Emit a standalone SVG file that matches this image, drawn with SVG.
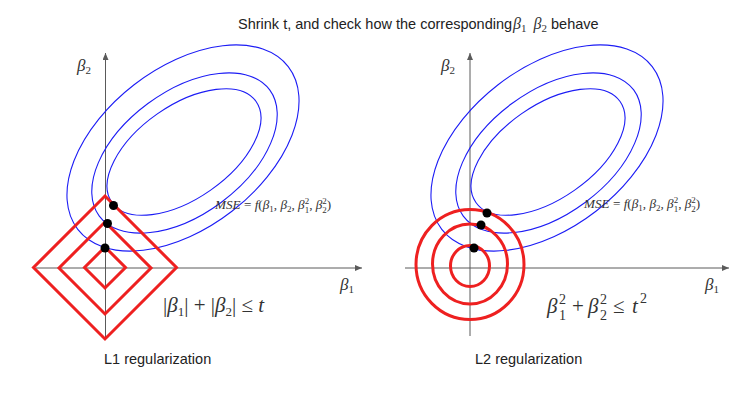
<svg xmlns="http://www.w3.org/2000/svg" xmlns:xlink="http://www.w3.org/1999/xlink" width="744" height="415" viewBox="0 0 744 415">
<style>
.axis{stroke:#5a5a5a;stroke-width:1;fill:none}
.mse{stroke:#1c1cf5;stroke-width:1.1;fill:none}
.con{stroke:#ee2020;stroke-width:3;fill:none}
.dot{fill:#000}
.sans{font-family:"Liberation Sans",Arial,sans-serif;fill:#222}
.ser{font-family:"Liberation Serif","Times New Roman",serif;fill:#333}
.it{font-style:italic}
.n{font-style:normal}
.s{font-style:normal;font-size:9px}
</style>
<defs>
<marker id="arr" markerUnits="userSpaceOnUse" markerWidth="8" markerHeight="6" refX="7" refY="3" orient="auto">
<path d="M0,0 L7,3 L0,6 z" fill="#5a5a5a"/>
</marker>
<g id="ellipses">
<ellipse class="mse" cx="183" cy="148" rx="133" ry="80" transform="rotate(-37.7 183 148)"/>
<ellipse class="mse" cx="184.5" cy="153" rx="106" ry="61.5" transform="rotate(-36.5 184.5 153)"/>
<ellipse class="mse" cx="184" cy="152" rx="88" ry="46.5" transform="rotate(-35 184 152)"/>
</g>
</defs>

<rect width="744" height="415" fill="#fff"/>

<g id="title">
<text class="sans" x="238" y="29" font-size="14.5">Shrink t, and check how the corresponding<tspan class="ser it" font-size="16" dx="1">β</tspan><tspan class="ser" font-size="11" dy="3">1</tspan><tspan class="ser it" font-size="16" dx="7" dy="-3">β</tspan><tspan class="ser" font-size="11" dy="3">2</tspan><tspan dy="-3"> behave</tspan></text>
</g>

<g id="panel-l1">
<g id="l1-axes">
<line class="axis" x1="105.5" y1="340" x2="105.5" y2="53" marker-end="url(#arr)"/>
<line class="axis" x1="36" y1="268" x2="362" y2="268" marker-end="url(#arr)"/>
<text class="ser it" x="77" y="71" font-size="17">β<tspan class="n" font-size="11" dy="3">2</tspan></text>
<text class="ser it" x="340" y="290" font-size="17">β<tspan class="n" font-size="11" dy="3">1</tspan></text>
</g>
<g id="l1-mse">
<use xlink:href="#ellipses"/>
<text class="ser it" x="215" y="209" font-size="13.2">MSE<tspan class="n"> = </tspan>f<tspan class="n">(</tspan>β<tspan class="s" dy="2.5">1</tspan><tspan class="n" dy="-2.5">, </tspan>β<tspan class="s" dy="2.5">2</tspan><tspan class="n" dy="-2.5">, </tspan>β<tspan class="s" dy="-5">2</tspan><tspan class="s" dx="-4.5" dy="8.5">1</tspan><tspan class="n" dy="-3.5">, </tspan>β<tspan class="s" dy="-5">2</tspan><tspan class="s" dx="-4.5" dy="8.5">2</tspan><tspan class="n" dy="-3.5">)</tspan></text>
</g>
<g id="l1-constraint">
<path class="con" d="M105,196 L176.5,267.5 L105,339 L33.5,267.5 Z"/>
<path class="con" d="M105,222 L151,268 L105,314 L59,268 Z"/>
<path class="con" d="M105,247 L125.5,267.5 L105,288 L84.5,267.5 Z"/>
</g>
<g id="l1-dots">
<circle class="dot" cx="113.5" cy="205.5" r="4.5"/>
<circle class="dot" cx="107.5" cy="223.5" r="4.5"/>
<circle class="dot" cx="105" cy="248" r="4.5"/>
</g>
<text class="ser" x="163" y="312" font-size="21">|<tspan class="it">β</tspan><tspan font-size="13" dy="4">1</tspan><tspan dy="-4">| + |</tspan><tspan class="it">β</tspan><tspan font-size="13" dy="4">2</tspan><tspan dy="-4">| ≤ </tspan><tspan class="it">t</tspan></text>
<text class="sans" x="104" y="364" font-size="14.5">L1 regularization</text>
</g>

<g id="panel-l2">
<g id="l2-axes">
<line class="axis" x1="470" y1="336" x2="470" y2="53" marker-end="url(#arr)"/>
<line class="axis" x1="405" y1="268" x2="729" y2="268" marker-end="url(#arr)"/>
<text class="ser it" x="441" y="71" font-size="17">β<tspan class="n" font-size="11" dy="3">2</tspan></text>
<text class="ser it" x="705" y="290" font-size="17">β<tspan class="n" font-size="11" dy="3">1</tspan></text>
</g>
<g id="l2-mse">
<use xlink:href="#ellipses" x="364"/>
<text class="ser it" x="584" y="208" font-size="13.2">MSE<tspan class="n"> = </tspan>f<tspan class="n">(</tspan>β<tspan class="s" dy="2.5">1</tspan><tspan class="n" dy="-2.5">, </tspan>β<tspan class="s" dy="2.5">2</tspan><tspan class="n" dy="-2.5">, </tspan>β<tspan class="s" dy="-5">2</tspan><tspan class="s" dx="-4.5" dy="8.5">1</tspan><tspan class="n" dy="-3.5">, </tspan>β<tspan class="s" dy="-5">2</tspan><tspan class="s" dx="-4.5" dy="8.5">2</tspan><tspan class="n" dy="-3.5">)</tspan></text>
</g>
<g id="l2-constraint">
<ellipse class="con" cx="470" cy="264.5" rx="54" ry="55"/>
<ellipse class="con" cx="470" cy="264" rx="37.5" ry="40"/>
<ellipse class="con" cx="470" cy="266" rx="19.5" ry="20.5"/>
</g>
<g id="l2-dots">
<circle class="dot" cx="487" cy="213" r="4.5"/>
<circle class="dot" cx="481" cy="225" r="4.5"/>
<circle class="dot" cx="474" cy="248" r="4.5"/>
</g>
<g id="l2-formula" class="ser" font-size="21">
<text x="547" y="313" class="it">β</text>
<text x="559" y="304" font-size="14">2</text>
<text x="559" y="320" font-size="14">1</text>
<text x="572" y="313">+</text>
<text x="588" y="313" class="it">β</text>
<text x="600" y="304" font-size="14">2</text>
<text x="600" y="320" font-size="14">2</text>
<text x="613" y="313">≤</text>
<text x="632" y="313" class="it">t</text>
<text x="640" y="303" font-size="14">2</text>
</g>
<text class="sans" x="475" y="364" font-size="14.5">L2 regularization</text>
</g>
</svg>
